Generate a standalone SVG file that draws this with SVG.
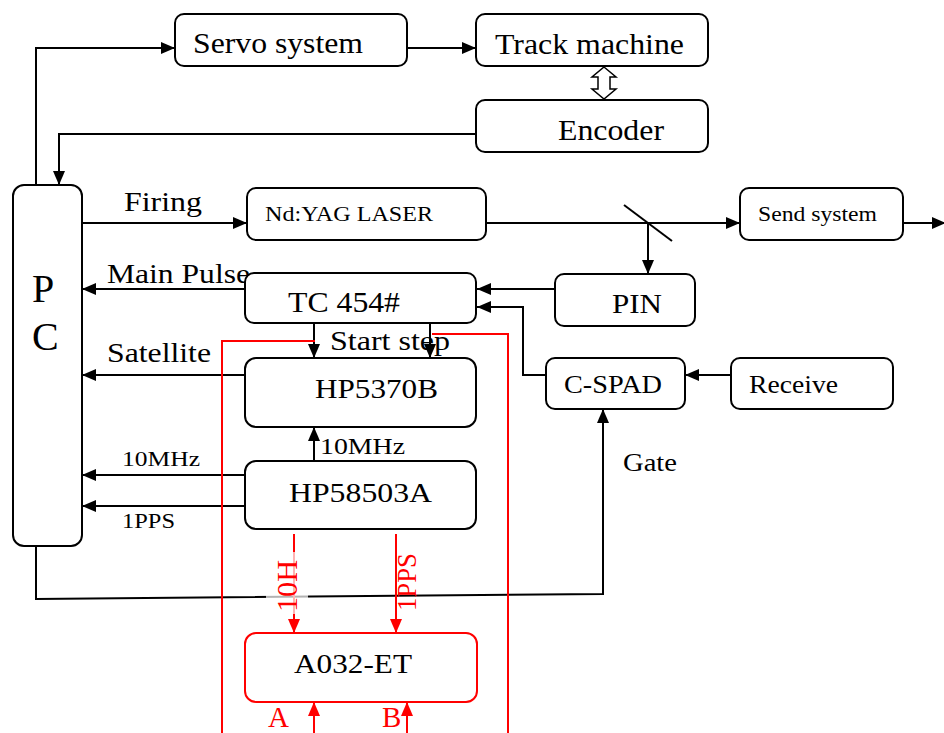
<svg xmlns="http://www.w3.org/2000/svg" width="944" height="733" viewBox="0 0 944 733">
  <style>
    .box { fill: #fff; stroke: #000; stroke-width: 2; }
    .rbox { fill: #fff; stroke: #f00; stroke-width: 2; }
    .t { font-family: "Liberation Serif", "Times New Roman", serif; fill: #000; }
    .rt { font-family: "Liberation Serif", "Times New Roman", serif; fill: #f00; }
    .ln { fill: none; stroke: #000; stroke-width: 2; }
    .rl { fill: none; stroke: #f00; stroke-width: 2; }
    .a { marker-end: url(#ah); }
    .ra { marker-end: url(#rah); }
  </style>
  <defs>
    <marker id="ah" viewBox="0 0 14 12" refX="14" refY="6" markerWidth="14" markerHeight="12" markerUnits="userSpaceOnUse" orient="auto">
      <path d="M0,0 L14,6 L0,12 z" fill="#000"/>
    </marker>
    <marker id="rah" viewBox="0 0 14 12" refX="14" refY="6" markerWidth="14" markerHeight="12" markerUnits="userSpaceOnUse" orient="auto">
      <path d="M0,0 L14,6 L0,12 z" fill="#f00"/>
    </marker>
  </defs>
  <rect width="944" height="733" fill="#fff"/>

  <!-- connectors -->
  <g id="connectors">
    <polyline class="ln a" points="36,185 36,48 175,48"/>
    <line class="ln a" x1="407" y1="48" x2="476" y2="48"/>
    <polyline class="ln a" points="476,134 59,134 59,185"/>
    <line class="ln a" x1="82" y1="223" x2="247" y2="223"/>
    <line class="ln a" x1="486" y1="223" x2="740" y2="223"/>
    <line class="ln a" x1="903" y1="223" x2="946" y2="223"/>
    <line class="ln" x1="624" y1="205" x2="672" y2="241"/>
    <line class="ln a" x1="648" y1="223" x2="648" y2="274"/>
    <line class="ln a" x1="555" y1="289" x2="477" y2="289"/>
    <polyline class="ln a" points="546,375 523,375 523,307 477,307"/>
    <line class="ln a" x1="731" y1="375" x2="685" y2="375"/>
    <polyline class="ln a" points="36,546 36,599 603,594 603,409"/>
    <line class="ln a" x1="245" y1="289" x2="82" y2="289"/>
    <line class="ln a" x1="314" y1="323" x2="314" y2="358"/>
    <line class="ln a" x1="430" y1="323" x2="430" y2="358"/>
    <line class="ln a" x1="245" y1="375" x2="82" y2="375"/>
    <line class="ln a" x1="314" y1="461" x2="314" y2="427"/>
    <line class="ln a" x1="245" y1="475" x2="82" y2="475"/>
    <line class="ln a" x1="245" y1="506" x2="82" y2="506"/>
    <!-- red timing paths -->
    <polyline class="rl" points="315,341 222,341 222,733"/>
    <polyline class="rl" points="432,334 508,334 508,733"/>
    <line class="rl ra" x1="294" y1="534" x2="294" y2="633"/>
    <line class="rl ra" x1="396" y1="534" x2="396" y2="633"/>
    <line class="rl ra" x1="314" y1="733" x2="314" y2="702"/>
    <line class="rl ra" x1="407" y1="733" x2="407" y2="702"/>
    <!-- coupling between track machine and encoder -->
    <polygon points="604,67 616,77 610,77 610,89 616,89 604,99 592,89 598,89 598,77 592,77" fill="#fff" stroke="#000" stroke-width="1.5"/>
  </g>

  <!-- connector labels -->
  <g id="labels">
    <text class="t" x="124" y="211" font-size="27" textLength="78" lengthAdjust="spacingAndGlyphs">Firing</text>
    <text class="t" x="107" y="283" font-size="28" textLength="143" lengthAdjust="spacingAndGlyphs">Main Pulse</text>
    <text class="t" x="330" y="350" font-size="28" textLength="120" lengthAdjust="spacingAndGlyphs">Start step</text>
    <text class="t" x="107" y="362" font-size="28" textLength="104" lengthAdjust="spacingAndGlyphs">Satellite</text>
    <text class="t" x="320" y="454" font-size="24" textLength="85" lengthAdjust="spacingAndGlyphs">10MHz</text>
    <text class="t" x="122" y="466" font-size="22" textLength="78" lengthAdjust="spacingAndGlyphs">10MHz</text>
    <text class="t" x="122" y="528" font-size="22" textLength="53" lengthAdjust="spacingAndGlyphs">1PPS</text>
    <text class="t" x="623" y="471" font-size="25" textLength="54" lengthAdjust="spacingAndGlyphs">Gate</text>
    <rect x="266" y="552" width="42" height="62" fill="#fff" opacity="0.7"/>
    <text class="rt" transform="translate(297,612) rotate(-90)" font-size="29" textLength="52" lengthAdjust="spacingAndGlyphs">10H</text>
    <text class="rt" transform="translate(416,611) rotate(-90)" font-size="27" textLength="58" lengthAdjust="spacingAndGlyphs">1PPS</text>
    <text class="rt" x="268" y="727" font-size="29">A</text>
    <text class="rt" x="382" y="727" font-size="29">B</text>
  </g>

  <!-- nodes -->
  <g id="servo">
    <rect class="box" x="175" y="14" width="232" height="52" rx="9"/>
    <text class="t" x="193" y="53" font-size="29" textLength="170" lengthAdjust="spacingAndGlyphs">Servo system</text>
  </g>
  <g id="track">
    <rect class="box" x="476" y="14" width="232" height="52" rx="9"/>
    <text class="t" x="495" y="54" font-size="30" textLength="189" lengthAdjust="spacingAndGlyphs">Track machine</text>
  </g>
  <g id="encoder">
    <rect class="box" x="476" y="100" width="232" height="52" rx="9"/>
    <text class="t" x="558" y="140" font-size="30" textLength="106" lengthAdjust="spacingAndGlyphs">Encoder</text>
  </g>
  <g id="pc">
    <rect class="box" x="13" y="185" width="69" height="361" rx="11"/>
    <text class="t" x="32" y="302" font-size="40">P</text>
    <text class="t" x="32" y="350" font-size="40">C</text>
  </g>
  <g id="laser">
    <rect class="box" x="247" y="188" width="239" height="52" rx="9"/>
    <text class="t" x="265" y="221" font-size="21" textLength="168" lengthAdjust="spacingAndGlyphs">Nd:YAG LASER</text>
  </g>
  <g id="send">
    <rect class="box" x="740" y="188" width="163" height="52" rx="9"/>
    <text class="t" x="758" y="221" font-size="21" textLength="119" lengthAdjust="spacingAndGlyphs">Send system</text>
  </g>
  <g id="pin">
    <rect class="box" x="555" y="274" width="140" height="52" rx="9"/>
    <text class="t" x="612" y="313" font-size="28" textLength="50" lengthAdjust="spacingAndGlyphs">PIN</text>
  </g>
  <g id="tc454">
    <rect class="box" x="245" y="273" width="231" height="50" rx="9"/>
    <text class="t" x="288" y="312" font-size="29" textLength="112" lengthAdjust="spacingAndGlyphs">TC 454#</text>
  </g>
  <g id="hp5370b">
    <rect class="box" x="245" y="358" width="231" height="69" rx="11"/>
    <text class="t" x="315" y="398" font-size="28" textLength="123" lengthAdjust="spacingAndGlyphs">HP5370B</text>
  </g>
  <g id="cspad">
    <rect class="box" x="546" y="358" width="139" height="51" rx="9"/>
    <text class="t" x="564" y="393" font-size="26" textLength="98" lengthAdjust="spacingAndGlyphs">C-SPAD</text>
  </g>
  <g id="receive">
    <rect class="box" x="731" y="358" width="162" height="51" rx="9"/>
    <text class="t" x="749" y="393" font-size="26" textLength="89" lengthAdjust="spacingAndGlyphs">Receive</text>
  </g>
  <g id="hp58503a">
    <rect class="box" x="245" y="461" width="231" height="68" rx="11"/>
    <text class="t" x="289" y="502" font-size="28" textLength="143" lengthAdjust="spacingAndGlyphs">HP58503A</text>
  </g>
  <g id="a032et">
    <rect class="rbox" x="245" y="633" width="232" height="69" rx="11"/>
    <text class="t" x="294" y="673" font-size="28" textLength="118" lengthAdjust="spacingAndGlyphs">A032-ET</text>
  </g>
</svg>
